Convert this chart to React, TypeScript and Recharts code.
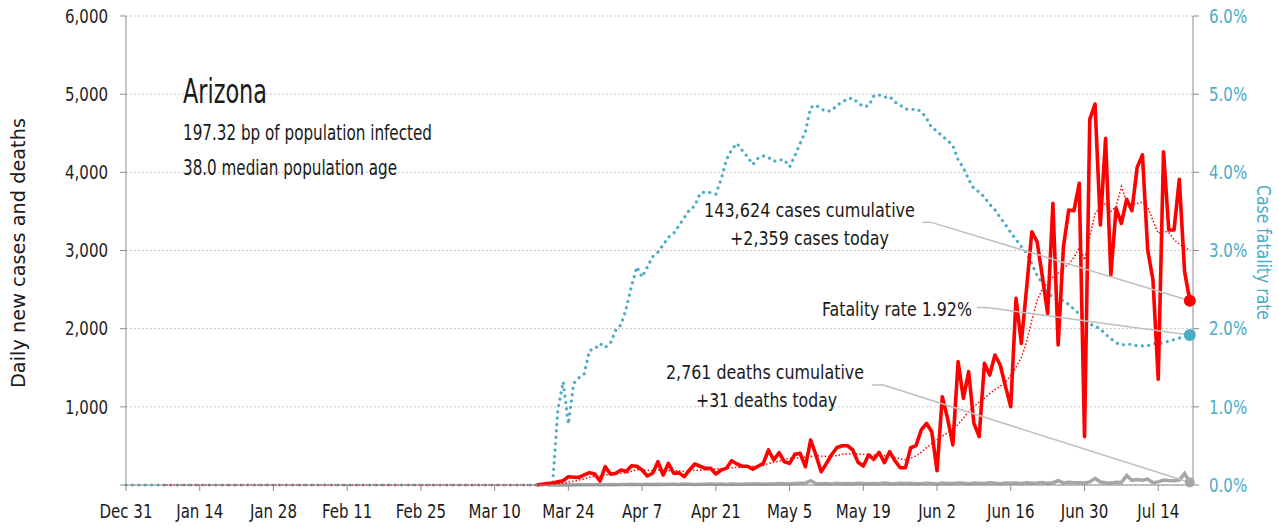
import React from "react";
import { ComposedChart, Line, XAxis, YAxis, CartesianGrid, ReferenceLine, ReferenceDot } from "recharts";

const FONT = "'Liberation Sans Narrow', 'Arial Narrow', 'DejaVu Sans Condensed', sans-serif";
const RED = "#ff0000";
const BLUE = "#4bacc6";
const GRAY = "#a6a6a6";
const LEADER = "#bfbfbf";
const AXIS = "#8c8c8c";
const INK = "#1a1a1a";

// x axis: days since Dec 31
const tickDays = [0, 14, 28, 42, 56, 70, 84, 98, 112, 126, 140, 154, 168, 182, 196];
const tickLabels = ["Dec 31", "Jan 14", "Jan 28", "Feb 11", "Feb 25", "Mar 10", "Mar 24", "Apr 7", "Apr 21", "May 5", "May 19", "Jun 2", "Jun 16", "Jun 30", "Jul 14"];
const leftTicks = [0, 1000, 2000, 3000, 4000, 5000, 6000];
const rightTicks = [0, 1, 2, 3, 4, 5, 6];
const lastDay = 202;

// daily new cases, from day 78
const casesStart = 78;
const dailyCases = [
  0, 10, 18, 25, 40, 55, 105, 100, 98, 130, 158, 140, 51,
  234, 137, 150, 192, 175, 247, 240, 192, 115, 150,
  298, 128, 277, 150, 155, 107, 192, 269, 240, 213,
  213, 141, 192, 213, 311, 269, 240, 240, 201, 240,
  277, 448, 320, 413, 298, 277, 392, 405, 234, 576,
  384, 170, 277, 390, 480, 503, 503, 448, 290, 243,
  384, 329, 418, 285, 426, 311, 221, 221, 477, 503,
  704, 789, 682, 183, 1130, 850, 512, 1578, 1109, 1450,
  789, 618, 1557, 1407, 1663, 1535, 1258, 1002, 2388, 1812,
  2519, 3240, 3112, 2665, 2196, 3603, 1791, 3049, 3518, 3509,
  3859, 618, 4678, 4874, 3326, 4435, 2686, 3540, 3348, 3655,
  3509, 4064, 4222, 3006, 2622, 1352, 4264, 3262, 3262, 3911,
  2729, 2358,
];

// moving average of cases (dotted red), from day 7
const avgStart = 7;
const avgCases = [
  0, 0, 0, 0, 0, 0, 0, 0, 0, 0, 0, 0, 0, 0, 0, 0, 0, 0, 0, 0,
  0, 0, 0, 0, 0, 0, 0, 0, 0, 0, 0, 0, 0, 0, 0, 0, 0, 0, 0, 0,
  0, 0, 0, 0, 0, 0, 0, 0, 0, 0, 0, 0, 0, 0, 0, 0, 0, 0, 0, 0,
  0, 0, 0, 0, 0, 0, 0, 0, 0, 0, 0,
  2, 4, 7, 10, 15, 21, 36, 49, 63, 79, 98, 113, 112,
  131, 136, 143, 151, 154, 175, 196, 190, 188, 182,
  190, 188, 185, 180, 182, 175, 180, 190, 190, 195,
  205, 205, 208, 212, 220, 225, 228, 232, 240, 245,
  250, 275, 290, 305, 325, 340, 345, 350, 355, 365,
  378, 370, 365, 368, 378, 392, 398, 400, 398, 392,
  388, 384, 380, 375, 365, 350, 335, 322, 345, 372,
  420, 478, 530, 578, 625, 668, 715, 775, 855, 945,
  1005, 1060, 1110, 1170, 1220, 1265, 1320, 1400, 1510, 1630,
  1830, 2110, 2360, 2510, 2580, 2660, 2710, 2770, 2830, 2910,
  3040, 2880, 3180, 3470, 3560, 3600, 3500, 3560, 3820, 3620,
  3590, 3600, 3620, 3560, 3380, 3220, 3250, 3230, 3140, 3080,
  3040, 3000,
];

// daily deaths, from day 80
const deathsStart = 80;
const dailyDeaths = [
  0, 1, 0, 1, 2, 1, 3, 2, 4, 3, 5,
  4, 6, 3, 7, 5, 8, 6, 7, 9, 8,
  10, 7, 11, 9, 6, 12, 10, 8, 11, 9,
  13, 10, 12, 8, 14, 11, 9, 13, 12, 15,
  10, 14, 12, 18, 16, 13, 20, 22, 25, 56,
  20, 15, 18, 14, 22, 17, 19, 16, 21, 18,
  15, 20, 17, 24, 19, 16, 22, 18, 21, 15,
  17, 23, 19, 14, 25, 20, 18, 27, 22, 16,
  24, 21, 19, 28, 23, 17, 26, 22, 25, 20,
  30, 24, 27, 32, 21, 29, 56, 26, 35, 28,
  30, 25, 40, 85, 38, 30, 26, 35, 32, 120,
  60, 70, 60, 75, 30, 40, 65, 58, 55, 62, 148, 31,
];

// case fatality rate in %, from day 0
const fatalityRate = [
  0, 0, 0, 0, 0, 0, 0, 0, 0, 0, 0, 0, 0, 0, 0, 0, 0, 0, 0, 0,
  0, 0, 0, 0, 0, 0, 0, 0, 0, 0, 0, 0, 0, 0, 0, 0, 0, 0, 0, 0,
  0, 0, 0, 0, 0, 0, 0, 0, 0, 0, 0, 0, 0, 0, 0, 0, 0, 0, 0, 0,
  0, 0, 0, 0, 0, 0, 0, 0, 0, 0, 0, 0, 0, 0, 0, 0, 0, 0, 0, 0,
  0, 0,
  0.96, 1.32, 0.78, 1.3, 1.37, 1.42, 1.72, 1.74, 1.81,
  1.76, 1.82, 1.98, 2.05, 2.26, 2.55, 2.79, 2.66, 2.79, 2.92,
  2.98, 3.07, 3.17, 3.22, 3.32, 3.42, 3.52, 3.57, 3.73, 3.75,
  3.74, 3.72, 3.91, 4.16, 4.29, 4.37, 4.28, 4.2, 4.1, 4.18,
  4.21, 4.19, 4.14, 4.16, 4.16, 4.07, 4.21, 4.37, 4.52, 4.83,
  4.86, 4.81, 4.78, 4.79, 4.86, 4.9, 4.94, 4.95, 4.89, 4.84,
  4.85, 4.98, 4.99, 4.96, 4.97, 4.9, 4.86, 4.81, 4.8, 4.81,
  4.78, 4.69, 4.57, 4.53, 4.46, 4.41, 4.34, 4.16, 4.06, 3.91,
  3.79, 3.75, 3.68, 3.59, 3.52, 3.42, 3.33, 3.23, 3.14, 3.05,
  2.97, 2.83, 2.68, 2.58, 2.46, 2.4, 2.37, 2.36, 2.31, 2.25,
  2.19, 2.12, 2.06, 2.03, 2.0, 1.93, 1.87, 1.82, 1.79, 1.8,
  1.8, 1.78, 1.78, 1.78, 1.81, 1.81, 1.82, 1.84, 1.86, 1.88,
  1.9, 1.92,
];

const pick = (arr: number[], start: number, day: number) =>
  day >= start && day - start < arr.length ? arr[day - start] : null;

const rows = [];
for (let day = 0; day <= lastDay; day++) {
  rows.push({
    day,
    cases: pick(dailyCases, casesStart, day),
    avg: pick(avgCases, avgStart, day),
    deaths: pick(dailyDeaths, deathsStart, day),
    rate: pick(fatalityRate, 0, day),
  });
}

const lastCases = dailyCases[dailyCases.length - 1];
const lastDeaths = dailyDeaths[dailyDeaths.length - 1];
const lastRate = fatalityRate[fatalityRate.length - 1];

// where the leader lines leave their labels (days / axis units)
const casesNote = { day: 151.2, knee: 152.9, value: 3360 };
const rateNote = { day: 161.6, knee: 163.5, value: 2.27 };
const deathsNote = { day: 141.6, knee: 143.8, value: 1280 };

// condensed tick text: the reference uses a narrow face
function makeTick(fmt: (v: number) => string, anchor: string, fill: string, dy: string) {
  return (props: any) => {
    const { x, y, payload } = props;
    const label = fmt(payload.value);
    if (!label) return <g />;
    return (
      <g transform={`translate(${x},${y})`}>
        <text transform="scale(0.88,1)" textAnchor={anchor} fill={fill} fontSize={19} fontFamily={FONT} dy={dy}>
          {label}
        </text>
      </g>
    );
  };
}

const xTick = makeTick((d) => tickLabels[tickDays.indexOf(d)], "middle", INK, "0.71em");
const leftTick = makeTick((v) => (v === 0 ? "" : v.toLocaleString("en-US")), "end", "#262626", "0.355em");
const rightTick = makeTick((v) => `${v.toFixed(1)}%`, "start", BLUE, "0.355em");

function Overlay() {
  const t = { fontFamily: FONT, fill: INK, lengthAdjust: "spacingAndGlyphs" as const };
  return (
    <svg width={1278} height={529} style={{ position: "absolute", left: 0, top: 0, pointerEvents: "none" }}>
      <text x={183} y={103} fontSize={34} textLength={84} {...t}>Arizona</text>
      <text x={183} y={140} fontSize={22} textLength={249} {...t}>197.32 bp of population infected</text>
      <text x={183} y={175} fontSize={22} textLength={214} {...t}>38.0 median population age</text>

      <text x={704} y={217} fontSize={20} textLength={211} {...t}>143,624 cases cumulative</text>
      <text x={730} y={245} fontSize={20} textLength={159} {...t}>+2,359 cases today</text>
      <text x={822} y={316} fontSize={20} textLength={150} {...t}>Fatality rate 1.92%</text>
      <text x={666} y={379} fontSize={20} textLength={198} {...t}>2,761 deaths cumulative</text>
      <text x={696} y={407} fontSize={20} textLength={141} {...t}>+31 deaths today</text>

      <text transform="translate(25,388) rotate(-90)" fontSize={20} textLength={270} {...t}>
        Daily new cases and deaths
      </text>
      <text transform="translate(1257,185) rotate(90)" fontSize={20} textLength={135}
        lengthAdjust="spacingAndGlyphs" fontFamily={FONT} fill={BLUE}>
        Case fatality rate
      </text>
    </svg>
  );
}

export default function App() {
  return (
    <div style={{ position: "absolute", left: 0, top: 0, width: 1278, height: 529, background: "#fff" }}>
      <ComposedChart width={1278} height={529} data={rows} margin={{ top: 16, right: 0, bottom: 0, left: 0 }}>
        <CartesianGrid yAxisId="left" horizontal vertical={false} stroke="#b0b0b0" strokeDasharray="1.5 2.5" />
        <XAxis
          type="number"
          dataKey="day"
          domain={[0, 202.6]}
          ticks={tickDays}
          interval={0}
          height={44}
          tickSize={6}
          tickMargin={13}
          stroke={AXIS}
          tick={xTick}
        />
        <YAxis
          yAxisId="left"
          orientation="left"
          width={126}
          domain={[0, 6000]}
          ticks={leftTicks}
          interval={0}
          tickSize={6}
          tickMargin={12}
          stroke={AXIS}
          tick={leftTick}
        />
        <YAxis
          yAxisId="right"
          orientation="right"
          width={85}
          domain={[0, 6]}
          ticks={rightTicks}
          interval={0}
          tickSize={6}
          tickMargin={10}
          stroke={AXIS}
          tick={rightTick}
        />

        <Line yAxisId="right" dataKey="rate" type="linear" stroke={BLUE} strokeWidth={3.2}
          strokeDasharray="0.01 6.4" strokeLinecap="round" dot={false} isAnimationActive={false} />
        <Line yAxisId="left" dataKey="deaths" type="linear" stroke={GRAY} strokeWidth={3.5}
          dot={false} isAnimationActive={false} />
        <Line yAxisId="left" dataKey="cases" type="linear" stroke={RED} strokeWidth={3.6}
          strokeLinejoin="round" dot={false} isAnimationActive={false} />
        <Line yAxisId="left" dataKey="avg" type="linear" stroke={RED} strokeWidth={1.5}
          strokeDasharray="1.5 2" dot={false} isAnimationActive={false} />

        <ReferenceLine yAxisId="left" stroke={LEADER} strokeWidth={1.5}
          segment={[{ x: casesNote.day, y: casesNote.value }, { x: casesNote.knee, y: casesNote.value }]} />
        <ReferenceLine yAxisId="left" stroke={LEADER} strokeWidth={1.5}
          segment={[{ x: casesNote.knee, y: casesNote.value }, { x: lastDay, y: lastCases }]} />
        <ReferenceLine yAxisId="right" stroke={LEADER} strokeWidth={1.5}
          segment={[{ x: rateNote.day, y: rateNote.value }, { x: rateNote.knee, y: rateNote.value }]} />
        <ReferenceLine yAxisId="right" stroke={LEADER} strokeWidth={1.5}
          segment={[{ x: rateNote.knee, y: rateNote.value }, { x: lastDay, y: lastRate }]} />
        <ReferenceLine yAxisId="left" stroke={LEADER} strokeWidth={1.5}
          segment={[{ x: deathsNote.day, y: deathsNote.value }, { x: deathsNote.knee, y: deathsNote.value }]} />
        <ReferenceLine yAxisId="left" stroke={LEADER} strokeWidth={1.5}
          segment={[{ x: deathsNote.knee, y: deathsNote.value }, { x: lastDay, y: lastDeaths }]} />

        <ReferenceDot yAxisId="left" x={lastDay} y={lastCases} r={6} fill={RED} stroke="none" />
        <ReferenceDot yAxisId="right" x={lastDay} y={lastRate} r={6} fill={BLUE} stroke="none" />
        <ReferenceDot yAxisId="left" x={lastDay} y={lastDeaths} r={5} fill={GRAY} stroke="none" />
      </ComposedChart>
      <Overlay />
    </div>
  );
}
